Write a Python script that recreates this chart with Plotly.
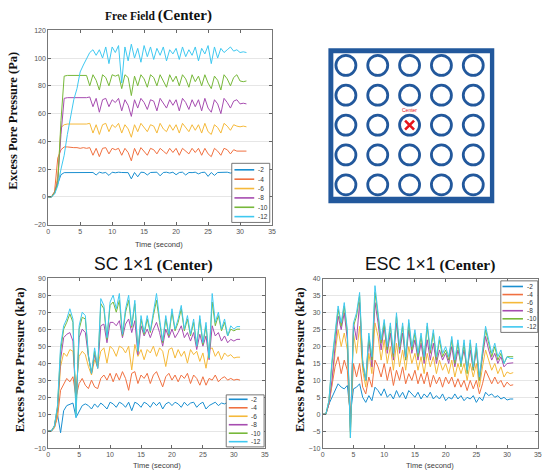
import plotly.graph_objects as go

# ---------------- data ----------------
DEPTHS = ["-2", "-4", "-6", "-8", "-10", "-12"]
COLORS = ["#1a8fd0", "#f07040", "#f5b93a", "#a64cb0", "#77b83a", "#3fc8f0"]

T = [0, 0.5, 1, 1.5, 2, 2.5, 3, 3.5, 4, 4.5,
     5, 5.5, 6, 6.5, 7, 7.5, 8, 8.5, 9, 9.5,
     10, 10.5, 11, 11.5, 12, 12.5, 13, 13.5, 14, 14.5,
     15, 15.5, 16, 16.5, 17, 17.5, 18, 18.5, 19, 19.5,
     20, 20.5, 21, 21.5, 22, 22.5, 23, 23.5, 24, 24.5,
     25, 25.5, 26, 26.5, 27, 27.5, 28, 28.5, 29, 29.5,
     30, 30.5, 31]

# Free Field (Pa)
FF_2 = [0, 0, 3, 10, 16, 17.5, 17.5, 17.5, 17.8, 17.6,
        17.8, 17.6, 17.8, 17.5, 17.6, 15.8, 17.8, 17.2, 17.6, 15.5,
        17.8, 17.4, 17.8, 17.6, 17.8, 17.5, 13, 17.6, 14.5, 17.8,
        17.6, 15.8, 17.6, 17.5, 17.8, 15.2, 17.6, 17.8, 17.2, 17.8,
        16, 17.6, 17.8, 15.8, 17.6, 17.5, 17.8, 16.6, 17.6, 17.8,
        14.8, 17.6, 15.5, 17.6, 17.8, 17.5, 17.8, 17.2, 17.6, 17,
        16.6, 16.8, 16.5]
FF_4 = [0, 0, 4, 28, 34, 36, 36, 35.5, 35.5, 35.5,
        35, 35.5, 35, 35.5, 30, 35, 29, 35, 35.5, 31,
        35, 34, 35, 30, 35, 32, 26, 35, 30, 35.5,
        33, 30, 35, 34, 31, 35, 33, 31, 35, 32,
        35, 30, 35, 33, 31, 35, 32, 35, 30, 35,
        31, 29, 35, 33, 30, 35, 34, 31, 34, 33,
        33, 33.5, 33]
FF_6 = [0, 0, 3, 15, 50, 52, 52.5, 52.5, 52.5, 52.5,
        52.5, 52, 52.5, 53, 46, 52, 45, 52, 53, 47,
        52, 50, 53, 46, 52, 49, 43, 52, 47, 53,
        50, 47, 52, 51, 46, 53, 49, 47, 52, 48,
        52, 46, 53, 50, 47, 52, 48, 52, 46, 53,
        47, 45, 52, 50, 46, 53, 51, 48, 52, 51,
        50.5, 51, 50.5]
FF_8 = [0, 0, 3, 12, 45, 71, 71.5, 71.5, 71.5, 71.5,
        71.5, 71, 71.5, 72, 65, 71, 61, 70, 71, 65,
        70, 68, 71, 62, 70, 66, 58, 70, 64, 71,
        68, 63, 70, 69, 62, 71, 67, 64, 70, 66,
        70, 62, 71, 68, 63, 70, 65, 70, 62, 71,
        64, 61, 70, 67, 60, 71, 68, 64, 69, 70,
        67, 67.5, 67]
FF_10 = [0, 0, 3, 10, 55, 87, 87.5, 87.5, 87.5, 87.5,
         87.5, 87.5, 87.5, 80, 88, 84, 77, 88, 86, 80,
         88, 87, 88, 78, 88, 86, 73, 87, 80, 88,
         85, 79, 88, 86, 80, 88, 84, 79, 88, 83,
         87, 80, 88, 85, 79, 88, 83, 87, 80, 88,
         82, 78, 87, 84, 77, 88, 85, 80, 86, 88,
         83.5, 83, 83.5]
FF_12 = [0, 0, 2, 8, 20, 30, 45, 58, 70, 78,
         90, 95, 100, 104, 106, 102, 106, 100, 108, 96,
         108, 104, 109, 82, 108, 98, 110, 100, 107, 97,
         109, 101, 108, 99, 107, 102, 108, 98, 106, 103,
         107, 99, 108, 101, 106, 102, 108, 98, 107, 103,
         109, 96, 108, 100, 107, 104, 106, 108, 105, 106,
         104, 104.5, 104]

# SC 1x1 (kPa)
SC_2 = [0, 0, 2, 10, -1, 12, 15, 16, 16.5, 8,
        12, 15, 16, 15, 13, 16, 14, 16.5, 15, 13,
        17, 16, 14, 17, 16, 14, 17, 12, 17, 16,
        14, 17, 16, 14, 17, 15, 17, 13, 16, 17,
        15, 17, 16, 14, 17, 15, 16.5, 17, 14, 16,
        17, 13, 15, 16, 17, 15, 16.5, 16, 17, 16,
        16, 16, 16]
SC_4 = [0, 0, 2, 8, 24, 28, 31, 29, 32, 20,
        28, 31, 27, 25, 30, 26, 25, 31, 33, 30,
        34, 29, 34, 30, 35, 31, 24, 34, 35, 28,
        33, 31, 34, 28, 33, 35, 30, 26, 32, 34,
        30, 33, 29, 33, 31, 34, 28, 33, 31, 27,
        32, 27, 31, 30, 33, 29, 31, 32, 30, 31,
        30, 30.5, 30]
SC_6 = [0, 0, 2, 10, 38, 46, 44, 48, 47, 25,
        44, 47, 45, 38, 33, 42, 38, 47, 49, 40,
        50, 48, 44, 50, 49, 46, 50, 36, 51, 44,
        48, 42, 48, 46, 50, 44, 49, 47, 38, 48,
        49, 43, 48, 44, 47, 40, 48, 45, 47, 41,
        46, 37, 48, 49, 44, 47, 42, 46, 44, 45,
        43, 43.5, 43.5]
SC_8 = [0, 0, 3, 13, 42, 55, 57, 58, 53, 15,
        55, 60, 58, 44, 34, 45, 37, 62, 63, 52,
        64, 64, 62, 65, 55, 63, 66, 58, 65, 45,
        62, 56, 60, 55, 60, 64, 58, 50, 60, 55,
        60, 55, 58, 62, 55, 58, 53, 58, 48, 57,
        50, 56, 42, 62, 56, 58, 53, 56, 52, 54,
        53, 54, 54]
SC_10 = [0, 0, 3, 14, 47, 60, 64, 69, 64, 10,
         60, 67, 66, 44, 34, 47, 37, 75, 72, 54,
         74, 76, 70, 77, 56, 70, 77, 61, 75, 47,
         66, 57, 66, 58, 68, 77, 64, 52, 66, 56,
         70, 59, 64, 72, 59, 66, 56, 64, 50, 66,
         51, 62, 43, 76, 62, 68, 59, 64, 56, 60,
         59, 60, 60]
SC_12 = [0, 0, 3, 15, 50, 62, 66, 72, 66, 8,
         62, 70, 68, 45, 34, 49, 37, 78, 74, 55,
         76, 80, 72, 81, 57, 72, 80, 62, 77, 47,
         68, 58, 68, 59, 70, 81, 66, 53, 68, 57,
         72, 60, 66, 74, 60, 68, 57, 66, 50, 68,
         52, 64, 43, 81, 64, 70, 60, 66, 56, 62,
         60, 61.5, 61.5]

# ESC 1x1 (kPa)
ESC_2 = [0, 0, 3, 5, 7.5, 9, 8, 7.5, 8.5, 0,
         7.5, 8, 9, 5, 3.5, 5.5, 4, 8, 7, 5.5,
         7.5, 5, 6, 4.5, 7, 5, 6.5, 4.5, 7, 6,
         5, 6.5, 4.5, 6, 5, 6.5, 4.5, 5.5, 4.5, 6,
         4, 5, 4.5, 6, 4.5, 5.5, 4, 5, 4.5, 5.5,
         3.5, 5, 4, 6.5, 5.5, 6, 5, 5.5, 4.5, 5,
         4.2, 4.5, 4.5]
ESC_4 = [0, 0, 3, 8, 14, 17, 12, 16, 13, -2,
         15, 11, 15, 8, 6, 11, 8, 16, 14, 11,
         15, 10, 14, 8.5, 13, 10, 14, 9, 12, 10,
         13, 9, 12, 9, 12.5, 8, 11.5, 9, 11, 8,
         11, 9, 11, 8, 10.5, 8, 10, 7, 10, 7.5,
         10, 6, 9, 13, 11, 9, 11, 9, 10, 8,
         9.5, 8.5, 8.7]
ESC_6 = [0, 0, 3, 9, 18, 25, 20, 24, 19, -4,
         24, 18, 26, 13, 8, 18, 12, 27, 23, 16,
         22, 15, 20, 13, 21, 14, 19, 13, 20, 15,
         18, 13, 17, 12, 18, 14, 17, 12, 16, 13,
         15, 12, 16, 11, 15, 12, 15, 10, 15, 11,
         15, 8, 14, 19, 16, 13, 15, 12, 14, 11,
         12.5, 12, 12.3]
ESC_8 = [0, 0, 3, 10, 20, 29, 25, 30, 22, -5,
         27, 22, 33, 15, 10, 22, 14, 33, 27, 19,
         26, 18, 24, 16, 27, 18, 24, 16, 25, 18,
         22, 16, 21, 15, 22, 16, 21, 15, 19, 16,
         18, 15, 20, 14, 19, 15, 19, 13, 19, 13,
         19, 10, 17, 23, 19, 16, 18, 15, 17, 14,
         15, 15.2, 15.2]
ESC_10 = [0, 0, 4, 15, 23, 31, 26, 32, 24, -7,
          26, 29, 35, 15, 10, 23, 16, 36, 29, 21,
          27, 19, 26, 17, 29, 19, 26, 16, 27, 19,
          24, 17, 23, 16, 26, 18, 24, 16, 22, 17,
          19, 16, 22, 15, 21, 14, 21, 12, 21, 13,
          20, 10, 18, 25, 21, 17, 20, 16, 18, 15,
          17, 17, 17]
ESC_12 = [0, 0, 4, 16, 24, 32, 27, 33, 25, -7,
          27, 30, 36, 16, 10, 24, 17, 38, 30, 22,
          28, 20, 27, 18, 30, 20, 27, 17, 28, 20,
          25, 18, 24, 17, 27, 19, 25, 17, 23, 18,
          20, 17, 23, 16, 22, 15, 22, 13, 22, 14,
          21, 11, 19, 26, 22, 18, 21, 17, 19, 15,
          17, 16.5, 16.5]

# schematic: 5x5 grid of columns
GRID_COLS = [1, 2, 3, 4, 5]
GRID_ROWS = [1, 2, 3, 4, 5]
CENTER_COL, CENTER_ROW = 3, 3
BLUE = "#22589c"

W, H = 550, 476
def fx(p):
    return p / W
def fy(p):
    return 1 - p / H

fig = go.Figure()

panels = [
    ("x", "y", [FF_2, FF_4, FF_6, FF_8, FF_10, FF_12]),
    ("x2", "y2", [SC_2, SC_4, SC_6, SC_8, SC_10, SC_12]),
    ("x3", "y3", [ESC_2, ESC_4, ESC_6, ESC_8, ESC_10, ESC_12]),
]
for xa, ya, series in panels:
    for name, col, vals in zip(DEPTHS, COLORS, series):
        fig.add_trace(go.Scatter(x=T, y=vals, mode="lines", name=name,
                                 line=dict(color=col, width=1),
                                 xaxis=xa, yaxis=ya, showlegend=False))

# schematic circles
cx = [c for r in GRID_ROWS for c in GRID_COLS]
cy = [r for r in GRID_ROWS for c in GRID_COLS]
fig.add_trace(go.Scatter(x=cx, y=cy, mode="markers", xaxis="x4", yaxis="y4",
                         showlegend=False, cliponaxis=False,
                         marker=dict(symbol="circle-open", size=20, color=BLUE,
                                     line=dict(width=2.8, color=BLUE))))
fig.add_trace(go.Scatter(x=[CENTER_COL], y=[CENTER_ROW], mode="markers",
                         xaxis="x4", yaxis="y4", showlegend=False, cliponaxis=False,
                         marker=dict(symbol="x-thin", size=9, color="#e8141b",
                                     line=dict(width=2.6, color="#e8141b"))))

tickfont = dict(family="Liberation Sans", size=7, color="#555555")
def xax(d0, d1, anchor):
    return dict(domain=[fx(d0), fx(d1)], range=[0, 35], dtick=5, tick0=0,
                ticks="inside", ticklen=3, tickcolor="#666", tickwidth=0.8,
                showline=True, linecolor="#777", linewidth=0.8, mirror="ticks",
                showgrid=False, zeroline=False, tickfont=tickfont, anchor=anchor)
def yax(d0, d1, rng, dt, anchor):
    return dict(domain=[fy(d1), fy(d0)], range=rng, dtick=dt, tick0=0,
                ticks="inside", ticklen=3, tickcolor="#666", tickwidth=0.8,
                showline=True, linecolor="#777", linewidth=0.8, mirror="ticks",
                showgrid=True, gridcolor="#e6e6e6", gridwidth=0.8,
                zeroline=False, tickfont=tickfont, anchor=anchor)

fig.update_layout(
    width=W, height=H, margin=dict(l=0, r=0, t=0, b=0),
    paper_bgcolor="white", plot_bgcolor="white",
    xaxis=xax(46.7, 273, "y"), yaxis=yax(26.7, 224, [-20, 120], 20, "x"),
    xaxis2=xax(46.7, 265.7, "y2"), yaxis2=yax(278.3, 450.7, [-10, 90], 10, "x2"),
    xaxis3=xax(324.3, 541.7, "y3"), yaxis3=yax(279, 450.7, [-10, 40], 5, "x3"),
    xaxis4=dict(domain=[fx(330), fx(497.7)], range=[0.45, 5.66], visible=False, anchor="y4"),
    yaxis4=dict(domain=[fy(202.3), fy(45)], range=[5.62, 0.43], visible=False, anchor="x4"),
)

shapes = [
    dict(type="rect", xref="paper", yref="paper", x0=fx(330), x1=fx(497.7),
         y0=fy(202.3), y1=fy(45), fillcolor=BLUE, line=dict(width=0), layer="below"),
    dict(type="rect", xref="paper", yref="paper", x0=fx(335), x1=fx(493.3),
         y0=fy(195.5), y1=fy(50), fillcolor="white", line=dict(width=0), layer="below"),
]

ann = []
serif = "Liberation Serif"
sans = "Liberation Sans"
# titles
ann.append(dict(x=fx(158), y=fy(11.5), xref="paper", yref="paper", showarrow=False,
                xanchor="center", yanchor="middle",
                text='<b>Free Field </b><b><span style="font-size:15px">(Center)</span></b>',
                font=dict(family=serif, size=11.5, color="#111")))
for cxp, label in [(153.3, "SC 1×1"), (432.7, "ESC 1×1")]:
    ann.append(dict(x=fx(cxp), y=fy(264), xref="paper", yref="paper", showarrow=False,
                    xanchor="center", yanchor="middle",
                    text='<span style="font-family:Liberation Sans;font-size:17.5px">' + label +
                         '</span> <b>(Center)</b>',
                    font=dict(family=serif, size=15.5, color="#111")))
# y titles
for xp, yp, txt in [(11, 118.5, "Excess Pore Pressure (Pa)"),
                    (19, 360.7, "Excess Pore Pressure (kPa)"),
                    (300.7, 361, "Excess Pore Pressure (kPa)")]:
    ann.append(dict(x=fx(xp), y=fy(yp), xref="paper", yref="paper", showarrow=False,
                    xanchor="center", yanchor="middle", textangle=-90,
                    text="<b>" + txt + "</b>", font=dict(family=serif, size=12.5, color="#111")))
# x titles
for xp, yp in [(159, 244), (156.7, 468.5), (433, 468.5)]:
    ann.append(dict(x=fx(xp), y=fy(yp), xref="paper", yref="paper", showarrow=False,
                    xanchor="center", yanchor="middle", text="Time (second)",
                    font=dict(family=sans, size=7.5, color="#404040")))
# schematic label
ann.append(dict(x=CENTER_COL, y=CENTER_ROW - 0.5, xref="x4", yref="y4", showarrow=False,
                xanchor="center", yanchor="middle", text="Center",
                font=dict(family=sans, size=5, color="#e8141b")))

# custom legends (box px: left, right, top, bottom, first entry y, spacing, line x0, x1, text x)
legends = [
    (232.3, 270.7, 161.7, 221.7, 168.3, 9.5, 235, 255, 256.7),
    (226.7, 265.0, 396.7, 449.5, 401.2, 8.6, 229.3, 248.3, 250),
    (504.3, 541.7, 281.0, 333.3, 286.7, 8.2, 506, 526.7, 528.3),
]
for (l, r, t, b, e0, sp, lx0, lx1, tx) in legends:
    shapes.append(dict(type="rect", xref="paper", yref="paper", x0=fx(l), x1=fx(r),
                       y0=fy(b), y1=fy(t), fillcolor="white",
                       line=dict(color="#555", width=0.8), layer="above"))
    for i, (name, col) in enumerate(zip(DEPTHS, COLORS)):
        yy = e0 + i * sp
        shapes.append(dict(type="line", xref="paper", yref="paper", x0=fx(lx0), x1=fx(lx1),
                           y0=fy(yy), y1=fy(yy), line=dict(color=col, width=1.6), layer="above"))
        ann.append(dict(x=fx(tx), y=fy(yy), xref="paper", yref="paper", showarrow=False,
                        xanchor="left", yanchor="middle", text=name,
                        font=dict(family=sans, size=6.5, color="#333")))

fig.update_layout(shapes=shapes, annotations=ann)
fig.write_html("out.html", config={"displayModeBar": False},
               post_script="document.body.style.margin='0';document.body.style.padding='0';")
